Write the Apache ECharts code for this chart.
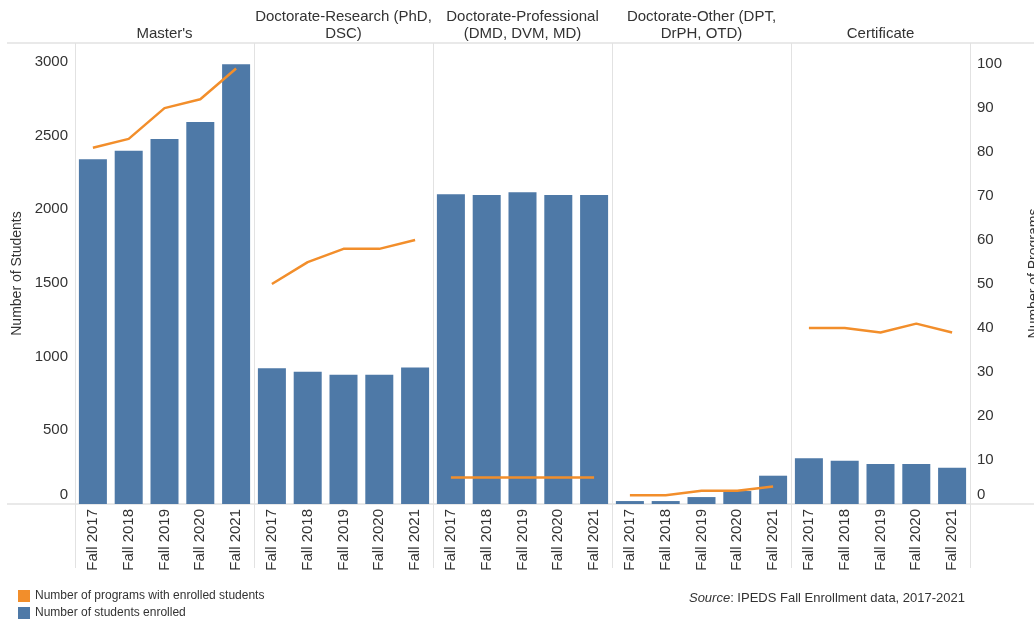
<!DOCTYPE html>
<html>
<head>
<meta charset="utf-8">
<script src="https://cdn.jsdelivr.net/npm/echarts@6/dist/echarts.min.js"></script>
<style>
  html, body { margin: 0; padding: 0; background: #fff; }
  #chart { width: 1034px; height: 621px; }
</style>
</head>
<body>
<div id="chart"></div>
<script type="text/javascript">
    // panels and years
    var panels = ["Master's", 'Doctorate-Research (PhD,\nDSC)', 'Doctorate-Professional\n(DMD, DVM, MD)', 'Doctorate-Other (DPT,\nDrPH, OTD)', 'Certificate'];
    var years = ['Fall 2017', 'Fall 2018', 'Fall 2019', 'Fall 2020', 'Fall 2021'];

    // number of students enrolled (left axis)
    var mastersStudents      = [2339, 2397, 2477, 2592, 2983];
    var researchStudents     = [921, 898, 877, 877, 927];
    var professionalStudents = [2101, 2097, 2115, 2097, 2097];
    var otherStudents        = [20, 20, 47, 88, 192];
    var certificateStudents  = [310, 294, 271, 271, 246];

    // number of programs with enrolled students (right axis)
    var mastersPrograms      = [81, 83, 90, 92, 99];
    var researchPrograms     = [50, 55, 58, 58, 60];
    var professionalPrograms = [6, 6, 6, 6, 6];
    var otherPrograms        = [2, 2, 3, 3, 4];
    var certificatePrograms  = [40, 40, 39, 41, 39];

    var studentsName = 'Number of students enrolled';
    var programsName = 'Number of programs with enrolled students';

    var studentSets = [mastersStudents, researchStudents, professionalStudents, otherStudents, certificateStudents];
    var programSets = [mastersPrograms, researchPrograms, professionalPrograms, otherPrograms, certificatePrograms];

    var categories = [];
    var barData = [];
    panels.forEach(function (p, i) {
        years.forEach(function (y, j) {
            categories.push(y);
            barData.push(studentSets[i][j]);
        });
    });

    var sepColor = '#e2e2e2';
    var every5 = function (idx) { return idx % 5 === 0; };

    var series = [{
        name: studentsName,
        type: 'bar',
        xAxisIndex: 0,
        yAxisIndex: 0,
        barWidth: 28,
        itemStyle: { color: '#4e79a7' },
        data: barData
    }];

    // one line per panel so the lines do not join across panels
    programSets.forEach(function (vals, i) {
        var d = categories.map(function () { return null; });
        vals.forEach(function (v, j) { d[i * 5 + j] = v; });
        series.push({
            name: programsName,
            type: 'line',
            xAxisIndex: 0,
            yAxisIndex: 1,
            showSymbol: false,
            symbol: 'none',
            lineStyle: { color: '#f28e2b', width: 2.5 },
            itemStyle: { color: '#f28e2b' },
            data: d
        });
    });

    var chart = echarts.init(document.getElementById('chart'));

    var option = {
        animation: false,
        textStyle: { fontFamily: 'Liberation Sans, Arial, sans-serif' },
        title: {
            text: '{i|Source}: IPEDS Fall Enrollment data, 2017-2021',
            right: 64,
            top: 587,
            textStyle: {
                fontSize: 13,
                fontWeight: 'normal',
                color: '#333',
                rich: { i: { fontStyle: 'italic', fontSize: 13, color: '#333' } }
            }
        },
        legend: {
            orient: 'vertical',
            left: 18,
            top: 590,
            padding: 0,
            itemWidth: 12,
            itemHeight: 12,
            itemGap: 5,
            icon: 'rect',
            data: [programsName, studentsName],
            textStyle: { fontSize: 12, color: '#333' }
        },
        grid: { left: 75, right: 64, top: 43, bottom: 117, outerBoundsMode: 'none', containLabel: false },
        xAxis: [
            {
                type: 'category',
                data: categories,
                position: 'bottom',
                axisLine: { show: false },
                axisTick: { show: true, interval: every5, length: 64, lineStyle: { color: sepColor } },
                splitLine: { show: true, interval: every5, lineStyle: { color: sepColor } },
                axisLabel: { interval: 0, rotate: 90, margin: 5, fontSize: 15, color: '#333' }
            },
            {
                type: 'category',
                data: panels,
                position: 'top',
                axisLine: { show: false },
                axisTick: { show: true, interval: 0, length: 36, lineStyle: { color: sepColor } },
                splitLine: { show: false },
                axisLabel: { interval: 0, margin: 1, fontSize: 15, lineHeight: 17, color: '#333' }
            }
        ],
        yAxis: [
            {
                type: 'value',
                min: 0,
                max: 3128,
                interval: 500,
                position: 'left',
                name: 'Number of Students',
                nameLocation: 'middle',
                nameGap: 50,
                nameTextStyle: { fontSize: 14, color: '#333' },
                axisLine: { show: false },
                axisTick: { show: false },
                splitLine: { show: false },
                axisLabel: {
                    showMaxLabel: false,
                    margin: 7,
                    fontSize: 15,
                    color: '#333',
                    formatter: function (v) { return v === 0 ? '{z|0}' : v; },
                    rich: { z: { fontSize: 15, color: '#333', padding: [0, 0, 18, 0] } }
                }
            },
            {
                type: 'value',
                min: 0,
                max: 104.8,
                interval: 10,
                position: 'right',
                name: 'Number of Programs',
                nameLocation: 'middle',
                nameGap: 57,
                nameTextStyle: { fontSize: 14, color: '#333' },
                axisLine: { show: false },
                axisTick: { show: false },
                splitLine: { show: false },
                axisLabel: {
                    showMaxLabel: false,
                    margin: 7,
                    fontSize: 15,
                    color: '#333',
                    formatter: function (v) { return v === 0 ? '{z|0}' : v; },
                    rich: { z: { fontSize: 15, color: '#333', padding: [0, 0, 18, 0] } }
                }
            }
        ],
        graphic: [
            { type: 'line', shape: { x1: 7, y1: 43, x2: 1034, y2: 43 }, style: { stroke: sepColor, lineWidth: 1.5 } },
            { type: 'line', shape: { x1: 7, y1: 504, x2: 1034, y2: 504 }, style: { stroke: sepColor, lineWidth: 1.5 } }
        ],
        series: series
    };

    chart.setOption(option);
</script>
</body>
</html>
